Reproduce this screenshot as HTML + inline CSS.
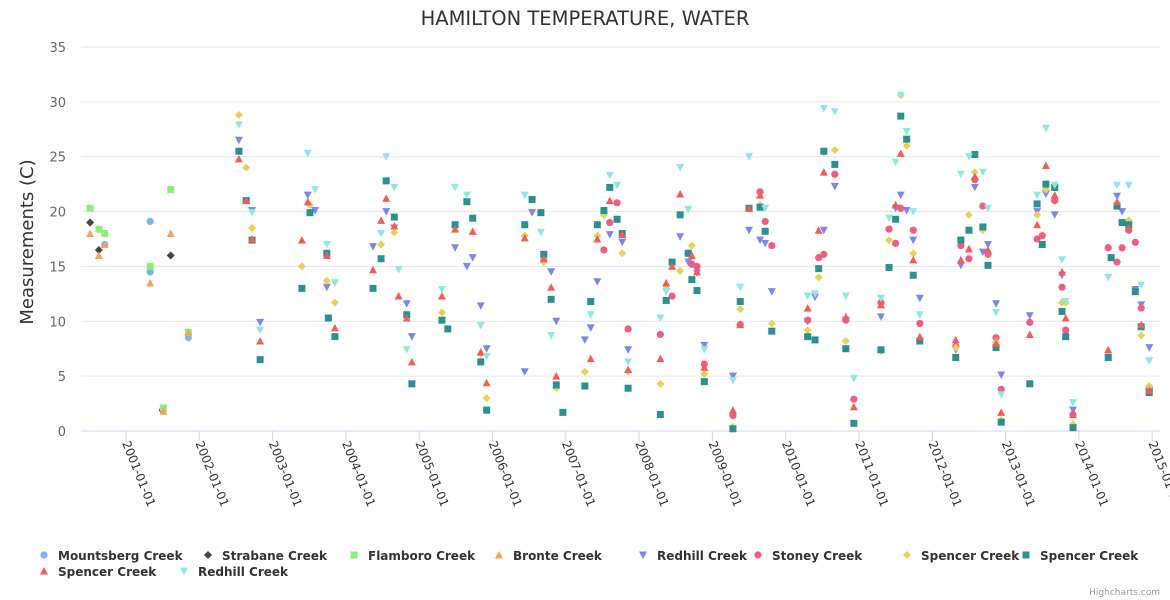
<!DOCTYPE html>
<html><head><meta charset="utf-8"><style>
body{margin:0;background:#fff;}
svg{display:block;font-family:"DejaVu Sans","Liberation Sans",sans-serif;}
</style></head><body>
<svg id="chart" width="1170" height="600">
<rect width="1170" height="600" fill="#fff"/>
<text x="585" y="25" text-anchor="middle" font-size="19.5" fill="#333">HAMILTON TEMPERATURE, WATER</text>
<text transform="translate(33,242) rotate(-90)" text-anchor="middle" font-size="18" fill="#333">Measurements (C)</text>
<g id="grid"></g><g id="xaxis"></g><g id="marks"></g><g id="legend"></g>
<text x="1160" y="595" text-anchor="end" font-size="9" fill="#999">Highcharts.com</text>
</svg>
<script>
const yTicks=[0,5,10,15,20,25,30,35];
const xTickYears=[2001,2002,2003,2004,2005,2006,2007,2008,2009,2010,2011,2012,2013,2014,2015];
const xTickLabels=["2001-01-01","2002-01-01","2003-01-01","2004-01-01","2005-01-01","2006-01-01","2007-01-01","2008-01-01","2009-01-01","2010-01-01","2011-01-01","2012-01-01","2013-01-01","2014-01-01","2015-01-01"];
const seriesNames=["Mountsberg Creek","Strabane Creek","Flamboro Creek","Bronte Creek","Redhill Creek","Stoney Creek","Spencer Creek","Spencer Creek","Spencer Creek","Redhill Creek"];
const mountsberg=[[2000.71,17],[2001.33,19.1],[2001.33,14.5],[2001.50,1.9],[2001.85,8.5]];
const strabane=[[2000.51,19],[2000.63,16.5],[2001.61,16],[2001.50,1.9]];
const flamboro=[[2000.51,20.3],[2000.63,18.4],[2000.71,18],[2001.33,15],[2001.61,22],[2001.51,2.1],[2001.85,9]];
const bronte=[[2000.51,18],[2000.63,16],[2000.71,17],[2001.33,13.5],[2001.61,18],[2001.51,1.8],[2001.85,9],[2014.96,4.1]];
const redhill1=[[2002.54,26.5],[2002.72,20.1],[2002.83,9.9],[2003.48,21.5],[2003.58,20.1],[2003.74,13.1],[2003.85,13.5],[2004.37,16.8],[2004.55,20],[2004.66,18.5],[2004.83,11.6],[2004.90,8.6],[2005.49,16.7],[2005.65,15],[2005.73,15.8],[2005.84,11.4],[2005.92,7.5],[2006.44,5.4],[2006.54,19.9],[2006.70,15.4],[2006.80,14.5],[2006.87,10],[2007.26,8.3],[2007.34,9.4],[2007.43,13.6],[2007.60,17.9],[2007.77,17.2],[2007.85,7.4],[2008.37,12.7],[2008.56,17.7],[2008.67,15.4],[2008.79,14.4],[2008.89,7.8],[2009.28,5],[2009.50,18.3],[2009.65,17.4],[2009.72,17.1],[2009.81,12.7],[2010.30,10],[2010.40,12.2],[2010.52,18.3],[2010.67,22.3],[2010.82,10.1],[2011.30,10.4],[2011.50,20.3],[2011.57,21.5],[2011.65,20.1],[2011.74,17.4],[2011.83,12.1],[2012.32,7.4],[2012.39,15.1],[2012.58,22.2],[2012.69,16.3],[2012.76,17],[2012.87,11.6],[2012.94,5.1],[2013.33,10.5],[2013.43,20],[2013.55,21.6],[2013.67,19.7],[2013.77,14.2],[2013.92,1.9],[2014.52,21.4],[2014.59,20],[2014.77,12.9],[2014.85,11.5],[2014.96,7.6]];
const stoney=[[2007.52,16.5],[2007.60,19],[2007.70,20.8],[2007.85,9.3],[2008.29,8.8],[2008.45,12.3],[2008.67,16.2],[2008.72,15.2],[2008.79,15],[2008.89,6.1],[2009.28,1.4],[2009.38,9.7],[2009.65,21.8],[2009.72,19.1],[2009.81,16.9],[2010.30,10.1],[2010.45,15.8],[2010.52,16.1],[2010.67,23.4],[2010.82,10.1],[2010.93,2.9],[2011.30,11.7],[2011.41,18.4],[2011.50,17.1],[2011.57,20.3],[2011.74,18.3],[2011.83,9.8],[2012.32,7.7],[2012.39,16.9],[2012.50,15.7],[2012.58,22.9],[2012.69,20.5],[2012.76,16.1],[2012.87,8.5],[2012.94,3.8],[2013.33,9.9],[2013.43,17.5],[2013.50,17.8],[2013.67,21],[2013.77,13.1],[2013.82,9.2],[2013.92,1.5],[2014.40,16.7],[2014.52,15.4],[2014.59,16.7],[2014.68,18.3],[2014.77,17.2],[2014.85,11.2],[2014.96,3.9]];
const spencerY=[[2002.54,28.8],[2002.64,24],[2002.72,18.5],[2003.40,15],[2003.51,20.6],[2003.74,13.7],[2003.85,11.7],[2004.48,17],[2004.66,18.1],[2005.31,10.8],[2005.49,18.6],[2005.84,7],[2005.92,3],[2006.44,17.8],[2006.70,15.4],[2006.87,3.9],[2007.26,5.4],[2007.43,17.8],[2007.52,19.7],[2007.77,16.2],[2007.85,5.4],[2008.29,4.3],[2008.37,13.2],[2008.56,14.6],[2008.72,16.9],[2008.89,5.2],[2009.28,0.4],[2009.38,11.1],[2009.65,20.6],[2009.81,9.8],[2010.30,9.2],[2010.45,14],[2010.52,25.4],[2010.67,25.6],[2010.82,8.2],[2011.30,7.3],[2011.41,17.4],[2011.57,30.6],[2011.65,26],[2011.74,16.2],[2012.32,7.6],[2012.50,19.7],[2012.58,23.6],[2012.69,18.3],[2012.87,8.1],[2012.94,1],[2013.43,19.7],[2013.55,22],[2013.67,22.4],[2013.77,11.7],[2013.82,11.7],[2013.92,0.6],[2014.40,6.9],[2014.52,20.6],[2014.68,19.2],[2014.85,8.7],[2014.96,4.1]];
const spencerT=[[2002.54,25.5],[2002.64,21],[2002.72,17.4],[2002.83,6.5],[2003.40,13],[2003.51,19.9],[2003.74,16.2],[2003.76,10.3],[2003.85,8.6],[2004.37,13],[2004.55,22.8],[2004.48,15.7],[2004.66,19.5],[2004.83,10.6],[2004.90,4.3],[2005.31,10.1],[2005.39,9.3],[2005.49,18.8],[2005.65,20.9],[2005.73,19.4],[2005.84,6.3],[2005.92,1.9],[2006.44,18.8],[2006.54,21.1],[2006.66,19.9],[2006.70,16.1],[2006.80,12],[2006.87,4.2],[2006.96,1.7],[2007.26,4.1],[2007.34,11.8],[2007.43,18.8],[2007.52,20.1],[2007.60,22.2],[2007.70,19.3],[2007.77,18],[2007.85,3.9],[2008.29,1.5],[2008.37,11.9],[2008.45,15.4],[2008.56,19.7],[2008.67,16.2],[2008.72,13.8],[2008.79,12.8],[2008.89,4.5],[2009.28,0.2],[2009.38,11.8],[2009.50,20.3],[2009.65,20.4],[2009.72,18.2],[2009.81,9.1],[2010.30,8.6],[2010.40,8.3],[2010.45,14.8],[2010.52,25.5],[2010.67,24.3],[2010.82,7.5],[2010.93,0.7],[2011.30,7.4],[2011.41,14.9],[2011.50,19.3],[2011.57,28.7],[2011.65,26.6],[2011.74,14.2],[2011.83,8.2],[2012.32,6.7],[2012.39,17.4],[2012.50,18.3],[2012.58,25.2],[2012.69,18.6],[2012.76,15.1],[2012.87,7.6],[2012.94,0.8],[2013.33,4.3],[2013.43,20.7],[2013.50,17],[2013.55,22.5],[2013.67,22.2],[2013.77,10.9],[2013.82,8.6],[2013.92,0.3],[2014.40,6.7],[2014.44,15.8],[2014.52,20.5],[2014.59,19],[2014.68,18.8],[2014.77,12.7],[2014.85,9.5],[2014.96,3.5]];
const spencerR=[[2002.54,24.8],[2002.64,21],[2002.72,17.5],[2002.83,8.2],[2003.40,17.4],[2003.48,20.9],[2003.74,16],[2003.85,9.4],[2004.37,14.7],[2004.48,19.2],[2004.55,21.2],[2004.66,18.7],[2004.72,12.3],[2004.83,10.3],[2004.90,6.3],[2005.31,12.3],[2005.49,18.4],[2005.73,18.2],[2005.84,7.2],[2005.92,4.4],[2006.44,17.6],[2006.70,15.7],[2006.80,13.1],[2006.87,5],[2007.34,6.6],[2007.43,17.5],[2007.60,21],[2007.77,17.9],[2007.85,5.6],[2008.29,6.6],[2008.37,13.5],[2008.45,15],[2008.56,21.6],[2008.72,16],[2008.79,14.5],[2008.89,5.8],[2009.28,1.9],[2009.38,9.7],[2009.50,20.3],[2009.65,21.5],[2010.30,11.2],[2010.45,18.3],[2010.52,23.6],[2010.82,10.4],[2010.93,2.2],[2011.30,11.5],[2011.50,20.6],[2011.57,25.3],[2011.74,15.6],[2011.83,8.6],[2012.32,8.3],[2012.39,15.6],[2012.50,16.6],[2012.58,23.2],[2012.76,16.5],[2012.87,8],[2012.94,1.7],[2013.33,8.8],[2013.43,18.8],[2013.55,24.2],[2013.67,21.5],[2013.77,14.5],[2013.82,10.3],[2013.92,1.5],[2014.40,7.4],[2014.52,20.9],[2014.68,18.5],[2014.85,9.7],[2014.96,3.7]];
const redhill2=[[2002.54,27.9],[2002.72,19.9],[2002.83,9.2],[2003.48,25.3],[2003.58,22],[2003.74,17],[2003.85,13.5],[2004.48,18],[2004.55,25],[2004.66,22.2],[2004.72,14.7],[2004.83,7.4],[2005.31,12.9],[2005.49,22.2],[2005.65,21.5],[2005.84,9.6],[2005.92,6.8],[2006.44,21.5],[2006.66,18.1],[2006.80,8.7],[2007.34,10.6],[2007.60,23.3],[2007.70,22.4],[2007.85,6.3],[2008.29,10.3],[2008.37,12.7],[2008.56,24],[2008.67,20.2],[2008.89,7.4],[2009.28,4.6],[2009.38,13.1],[2009.50,25],[2009.72,20.3],[2010.30,12.3],[2010.40,12.5],[2010.52,29.4],[2010.67,29.1],[2010.82,12.3],[2010.93,4.8],[2011.30,12.1],[2011.41,19.4],[2011.50,24.5],[2011.57,30.6],[2011.65,27.3],[2011.74,20],[2011.83,10.6],[2012.39,23.4],[2012.50,25],[2012.69,23.6],[2012.76,20.3],[2012.87,10.8],[2012.94,3.3],[2013.43,21.5],[2013.55,27.6],[2013.67,22.4],[2013.77,15.6],[2013.82,11.8],[2013.92,2.6],[2014.40,14],[2014.52,22.4],[2014.68,22.4],[2014.85,13.3],[2014.96,6.4]];
const seriesData=[mountsberg,strabane,flamboro,bronte,redhill1,stoney,spencerY,spencerT,spencerR,redhill2];
const colors=["#7cb5ec","#434348","#90ed7d","#f7a35c","#8085e9","#f15c80","#e4d354","#2b908f","#f45b5b","#91e8e1"];
const symbols=["circle","diamond","square","triangle","triangle-down","circle","diamond","square","triangle","triangle-down"];
const NS="http://www.w3.org/2000/svg";
const X0=81,X1=1160,Y0=431,Y1=47;
function xs(yr){return 126+(yr-2001)*73.3;}
function ys(v){return Y0-(v/35)*(Y0-Y1);}
function mk(tag,attrs,parent){const e=document.createElementNS(NS,tag);for(const k in attrs)e.setAttribute(k,attrs[k]);parent.appendChild(e);return e;}
const grid=document.getElementById('grid');
yTicks.forEach(t=>{
  const l=mk('line',{x1:X0,x2:X1,y1:ys(t),y2:ys(t),stroke:t===0?'#ccd6eb':'#e6e6e6','stroke-width':1},grid);
  
  
  const tx=mk('text',{x:66,y:ys(t)+5,'text-anchor':'end','font-size':13,fill:'#666'},grid);
  tx.textContent=t;
  
  
});
const xa=document.getElementById('xaxis');
xTickYears.forEach((yr,i)=>{
  const x=xs(yr);
  const l=mk('line',{x1:x,x2:x,y1:Y0,y2:Y0+10,stroke:'#ccd6eb'},xa);
  
  
  const tx=mk('text',{x:0,y:0,'font-size':12,fill:'#333',transform:`translate(${x-4},${Y0+12}) rotate(68)`},xa);
  tx.textContent=xTickLabels[i];
  
  
});
function drawSym(sym,x,y,color,parent){
  let e;
  if(sym==='circle')e=mk('circle',{cx:x,cy:y,r:3.6,fill:color},parent);
  else if(sym==='square')e=mk('rect',{x:x-3.5,y:y-3.5,width:7,height:7,fill:color},parent);
  else if(sym==='diamond')e=mk('path',{d:`M${x} ${y-4}L${x+4} ${y}L${x} ${y+4}L${x-4} ${y}Z`,fill:color},parent);
  else if(sym==='triangle')e=mk('path',{d:`M${x} ${y-4}L${x+4} ${y+3.5}L${x-4} ${y+3.5}Z`,fill:color},parent);
  else e=mk('path',{d:`M${x-4} ${y-3.5}L${x+4} ${y-3.5}L${x} ${y+4}Z`,fill:color},parent);
  return e;
}
const marks=document.getElementById('marks');
seriesData.forEach((arr,si)=>{
  const g=mk('g',{},marks);
  
  
  arr.forEach(p=>{
    const e=drawSym(symbols[si],xs(p[0]),ys(p[1]),colors[si],g);
    
    
  });
});
const legPos=[[44,556],[208,556],[354,556],[499,556],[643,556],[758,556],[907,556],[1026,556],[44,572],[184,572]];
const leg=document.getElementById('legend');
seriesNames.forEach((n,i)=>{
  const g=mk('g',{},leg);
  
  
  const [x,y]=legPos[i];
  drawSym(symbols[i],x,y-1,colors[i],g);
  const t=mk('text',{x:x+14,y:y+4,'font-size':12,'font-weight':'bold',fill:'#333'},g);
  t.textContent=n;
});
</script>
</body></html>
